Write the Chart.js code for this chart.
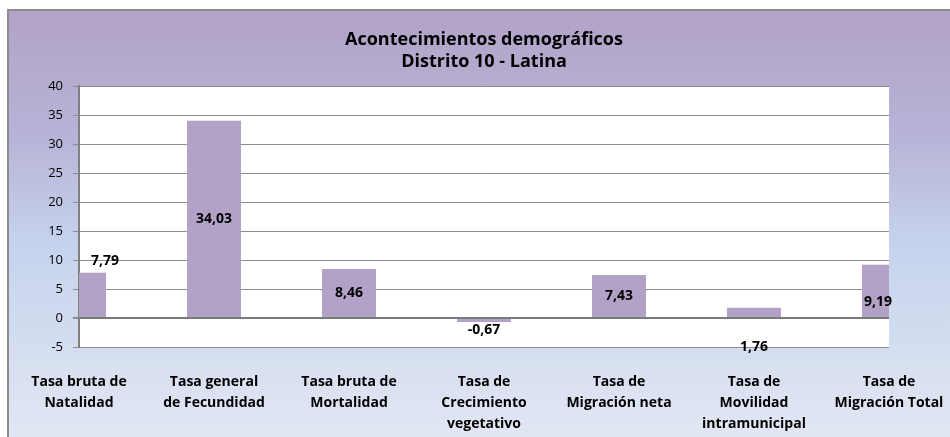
<!DOCTYPE html>
<html>
<head>
<meta charset="utf-8">
<script src="https://cdn.jsdelivr.net/npm/chart.js@4"></script>
<style>
  html, body { margin: 0; padding: 0; background: #fff; }
</style>
</head>
<body>
<canvas id="chart" width="950" height="437"></canvas>
<script>
const categories = [
  ['Tasa bruta de', 'Natalidad'],
  ['Tasa general', 'de Fecundidad'],
  ['Tasa bruta de', 'Mortalidad'],
  ['Tasa de', 'Crecimiento', 'vegetativo'],
  ['Tasa de', 'Migración neta'],
  ['Tasa de', 'Movilidad', 'intramunicipal'],
  ['Tasa de', 'Migración Total']
];
const values = [7.79, 34.03, 8.46, -0.67, 7.43, 1.76, 9.19];
// where each value label sits, as in the original sheet
const labelSpots = ['end', 'center', 'center', 'end', 'center', 'min', 'base'];
const yMin = -5, yMax = 40, yStep = 5;
const titleLines = ['Acontecimientos demográficos', 'Distrito 10 - Latina'];

const FONT = '"Open Sans"';

const backdrop = {
  id: 'backdrop',
  beforeDraw(chart) {
    const ctx = chart.ctx, a = chart.chartArea;
    ctx.save();
    ctx.fillStyle = '#fff';
    ctx.fillRect(0, 0, chart.width, chart.height);
    const g = ctx.createLinearGradient(0, 10, 0, chart.height);
    g.addColorStop(0, '#b2a2c7');
    g.addColorStop(0.3, '#b7b4d7');
    g.addColorStop(0.55, '#c6d3ed');
    g.addColorStop(1, '#e1e7f3');
    ctx.fillStyle = g;
    ctx.fillRect(8, 10, chart.width, chart.height);
    ctx.strokeStyle = '#8c8c8c';
    ctx.lineWidth = 2;
    ctx.strokeRect(8, 10, chart.width + 20, chart.height + 20);
    ctx.fillStyle = '#fff';
    ctx.fillRect(a.left, a.top, a.right - a.left, a.bottom - a.top);

    // title centred over the plot area, like the sheet does it
    ctx.font = 'bold 18px ' + FONT;
    ctx.fillStyle = '#000';
    ctx.textAlign = 'center';
    ctx.textBaseline = 'middle';
    const cx = (a.left + a.right) / 2;
    titleLines.forEach((t, i) => ctx.fillText(t, cx, 40 + i * 22));
    ctx.restore();
  }
};

const valueLabels = {
  id: 'valueLabels',
  afterDatasetsDraw(chart) {
    const ctx = chart.ctx, a = chart.chartArea, ys = chart.scales.y;
    const meta = chart.getDatasetMeta(0);
    ctx.save();
    ctx.font = 'bold 14px ' + FONT;
    ctx.fillStyle = '#000';
    ctx.textAlign = 'center';
    ctx.textBaseline = 'middle';
    meta.data.forEach((bar, i) => {
      const text = values[i].toFixed(2).replace('.', ',');
      const w = ctx.measureText(text).width;
      const x = Math.min(Math.max(bar.x, a.left + w / 2 + 12), a.right - w / 2 + 3);
      const top = Math.min(bar.y, bar.base), bottom = Math.max(bar.y, bar.base);
      let y;
      if (labelSpots[i] === 'end') y = values[i] >= 0 ? top - 12 : bottom + 8;
      else if (labelSpots[i] === 'min') y = ys.getPixelForValue(ys.min);
      else if (labelSpots[i] === 'base') y = bar.base - 15;
      else y = (top + bottom) / 2;
      ctx.fillText(text, x, y);
    });
    ctx.restore();
  }
};

new Chart(document.getElementById('chart'), {
  type: 'bar',
  data: {
    labels: categories,
    datasets: [{
      data: values,
      backgroundColor: '#b3a2c7',
      borderWidth: 0,
      categoryPercentage: 1,
      barPercentage: 0.4,
      clip: 0
    }]
  },
  plugins: [backdrop, valueLabels],
  options: {
    responsive: false,
    animation: false,
    layout: { padding: { top: 86, left: 0, right: 61, bottom: 0 } },
    plugins: {
      legend: { display: false },
      tooltip: { enabled: false },
      title: { display: false }
    },
    scales: {
      x: {
        offset: false,
        grid: { display: false, drawTicks: false },
        border: { display: false },
        ticks: {
          autoSkip: false,
          maxRotation: 0,
          padding: 25,
          color: '#000',
          font: { family: FONT, size: 14, weight: 'bold', lineHeight: 1.5 }
        },
        afterFit(scale) {
          scale.height = 90;
          scale.paddingLeft = 0;
          scale.paddingRight = 0;
        }
      },
      y: {
        min: yMin,
        max: yMax,
        ticks: {
          stepSize: yStep,
          padding: 10,
          color: '#000',
          font: { family: FONT, size: 13 }
        },
        grid: {
          color: ctx => ctx.tick && ctx.tick.value === 0 ? '#7a7a7a' : '#8c8c8c',
          lineWidth: ctx => ctx.tick && ctx.tick.value === 0 ? 2 : 1,
          tickLength: 6,
          tickColor: '#8c8c8c'
        },
        border: { color: '#808080', width: 2 },
        afterFit(scale) {
          scale.width = 79;
          scale.paddingTop = 0;
        }
      }
    }
  }
});
</script>
</body>
</html>
